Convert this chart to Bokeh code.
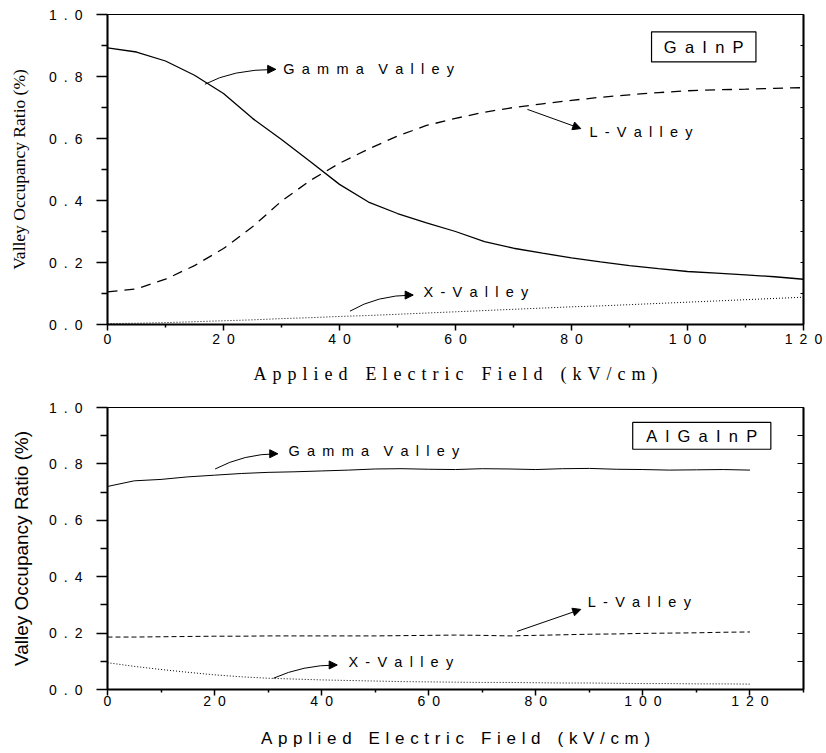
from bokeh.plotting import figure
from bokeh.models import (Range1d, LinearAxis, FixedTicker, Label, Arrow, NormalHead,
                          BoxAnnotation, CustomJSTickFormatter)
from bokeh.layouts import column
from bokeh.embed import file_html
from bokeh.resources import INLINE

# ---------------- data ----------------
field = [0, 5, 10, 15, 20, 25, 30, 35, 40, 45, 50, 55, 60, 65, 70, 75, 80, 85, 90, 95, 100, 105, 110, 115, 120]

# GaInP (top panel)
gaInP_gamma = [0.892, 0.879, 0.850, 0.804, 0.745, 0.665, 0.597, 0.525, 0.452, 0.395, 0.358, 0.328, 0.300,
               0.267, 0.246, 0.230, 0.215, 0.202, 0.190, 0.180, 0.171, 0.166, 0.160, 0.154, 0.146]
gaInP_L = [0.105, 0.115, 0.146, 0.190, 0.245, 0.315, 0.398, 0.465, 0.520, 0.566, 0.608, 0.642, 0.665,
           0.685, 0.700, 0.712, 0.723, 0.733, 0.741, 0.748, 0.754, 0.757, 0.759, 0.762, 0.764]
gaInP_X = [0.003, 0.004, 0.006, 0.009, 0.012, 0.015, 0.019, 0.022, 0.026, 0.029, 0.033, 0.037, 0.041,
           0.045, 0.049, 0.053, 0.057, 0.060, 0.064, 0.068, 0.072, 0.076, 0.080, 0.084, 0.088]

# AlGaInP (bottom panel)
alGaInP_gamma = [0.720, 0.740, 0.745, 0.754, 0.760, 0.766, 0.770, 0.772, 0.775, 0.778, 0.782, 0.783, 0.781,
                 0.780, 0.783, 0.782, 0.780, 0.783, 0.784, 0.781, 0.780, 0.778, 0.779, 0.780, 0.778]
alGaInP_L = [0.186, 0.186, 0.187, 0.188, 0.189, 0.189, 0.190, 0.190, 0.190, 0.190, 0.190, 0.191, 0.192,
             0.193, 0.192, 0.190, 0.192, 0.194, 0.196, 0.197, 0.199, 0.200, 0.201, 0.203, 0.204]
alGaInP_X = [0.095, 0.082, 0.071, 0.061, 0.052, 0.045, 0.040, 0.037, 0.034, 0.032, 0.030, 0.028, 0.027,
             0.026, 0.025, 0.025, 0.024, 0.023, 0.023, 0.022, 0.021, 0.021, 0.020, 0.020, 0.019]

# ticks
x_major = [0, 20, 40, 60, 80, 100, 120]
x_labels = ["0", "20", "40", "60", "80", "100", "120"]
x_minor_top = [10, 30, 50, 70, 90, 110]
x_minor_bot = [10, 30, 50, 70, 90, 110, 130]
y_major = [0.0, 0.2, 0.4, 0.6, 0.8, 1.0]
y_labels = ["0.0", "0.2", "0.4", "0.6", "0.8", "1.0"]
y_minor = [0.1, 0.3, 0.5, 0.7, 0.9]
y_all = [0.0, 0.1, 0.2, 0.3, 0.4, 0.5, 0.6, 0.7, 0.8, 0.9, 1.0]

x_title = "Applied Electric Field (kV/cm)"
y_title = "Valley Occupancy Ratio (%)"
panel_names = ["GaInP", "AlGaInP"]
valley_names = ["Gamma Valley", "L - Valley", "X - Valley"]

EN = "\u2002"
TPM = "\u2004"


def spread(s, gap=EN, word_gap=EN + EN):
    return word_gap.join(gap.join(list(w)) for w in s.split(" "))


def fmt(vals, labels):
    return CustomJSTickFormatter(
        args=dict(vals=vals, labels=[spread(l) for l in labels]),
        code="const i = vals.findIndex(v => Math.abs(v - tick) < 1e-6); return i >= 0 ? labels[i] : '';")


BLANK = CustomJSTickFormatter(code="return '';")


def make_panel(height, x_end, x_minor, borders, series, dashes, widths,
               ytick_out, ytick_minor_out, rtick_in, ylab_font, ylab_size, xlab_font, xlab_size,
               ylab_standoff, xlab_standoff, xtick_standoff):
    bl, br, bt, bb = borders
    p = figure(width=826, height=height, x_range=Range1d(0, x_end), y_range=Range1d(0, 1),
               output_backend="svg", toolbar_location=None,
               min_border_left=bl, min_border_right=br, min_border_top=bt, min_border_bottom=bb)
    p.grid.visible = False
    p.outline_line_color = "black"
    p.outline_line_width = 1.2
    p.background_fill_color = "white"
    p.border_fill_color = "white"

    xa = p.xaxis[0]
    xa.ticker = FixedTicker(ticks=x_major, minor_ticks=x_minor)
    xa.formatter = fmt(x_major, x_labels)
    xa.axis_line_width = 2
    xa.major_tick_line_width = 1.5
    xa.minor_tick_line_width = 1.5
    xa.major_tick_out = 6
    xa.major_tick_in = 0
    xa.minor_tick_out = 3
    xa.minor_tick_in = 0
    xa.major_label_text_font = "Liberation Sans"
    xa.major_label_text_font_size = "14px"
    xa.major_label_text_color = "black"
    xa.major_label_standoff = xtick_standoff
    xa.axis_label = spread(x_title, TPM, EN + EN)
    xa.axis_label_text_font = xlab_font
    xa.axis_label_text_font_size = xlab_size
    xa.axis_label_text_font_style = "normal"
    xa.axis_label_text_color = "black"
    xa.axis_label_standoff = xlab_standoff

    ya = p.yaxis[0]
    ya.ticker = FixedTicker(ticks=y_major, minor_ticks=y_minor)
    ya.formatter = fmt(y_major, y_labels)
    ya.axis_line_width = 2
    ya.major_tick_line_width = 1.5
    ya.minor_tick_line_width = 1.5
    ya.major_tick_out = ytick_out
    ya.major_tick_in = 0
    ya.minor_tick_out = ytick_minor_out
    ya.minor_tick_in = 0
    ya.major_label_text_font = "Liberation Sans"
    ya.major_label_text_font_size = "14px"
    ya.major_label_text_color = "black"
    ya.major_label_standoff = 14
    ya.axis_label = y_title
    ya.axis_label_text_font = ylab_font
    ya.axis_label_text_font_size = ylab_size
    ya.axis_label_text_font_style = "normal"
    ya.axis_label_text_color = "black"
    ya.axis_label_standoff = ylab_standoff

    ra = LinearAxis(ticker=FixedTicker(ticks=y_all, minor_ticks=[]), formatter=BLANK,
                    major_tick_in=rtick_in, major_tick_out=0, minor_tick_in=0, minor_tick_out=0,
                    axis_line_width=2, major_tick_line_width=1.2, major_label_standoff=0,
                    major_label_text_font_size="1px")
    p.add_layout(ra, "right")

    g, l, x = series
    p.line(field, g, line_color="black", line_width=widths[0])
    p.line(field, l, line_color="black", line_width=widths[1], line_dash=dashes[0])
    p.line(field, x, line_color="black", line_width=widths[2], line_dash=dashes[1])
    return p


# -------- top panel (GaInP) --------
p1 = make_panel(392, 120, x_minor_top, (106, 20, 14, 68),
                (gaInP_gamma, gaInP_L, gaInP_X), ("10 7", "1 2"), (1.3, 1.3, 1.0),
                11, 6, 3, "Liberation Serif", "17.5px", "Liberation Serif", "18px",
                17, 14, 0)

# -------- bottom panel (AlGaInP) --------
p2 = make_panel(358, 130, x_minor_bot, (107, 23, 15, 59),
                (alGaInP_gamma, alGaInP_L, alGaInP_X), ("5 3", "1 2"), (1.0, 1.0, 1.0),
                11, 7, 6, "Liberation Sans", "19px", "Liberation Sans", "17px",
                14, 17, -3)

# annotation geometry (data units): curved arrows (x0, y0, cx, cy, x1, y1), straight arrows, label spots
top_curves = [(16.8, 0.775, 21.5, 0.823, 29.0, 0.823), (41.8, 0.043, 46.5, 0.095, 52.7, 0.095)]
top_straight = [(72.4, 0.694, 81.6, 0.632)]
top_text = [(30.3, 0.823), (83.1, 0.621), (54.5, 0.106)]
top_box = (93.8, 111.8, 0.847, 0.944)

bot_curves = [(20.1, 0.782, 25.5, 0.836, 31.8, 0.836), (31.0, 0.040, 36.5, 0.087, 42.9, 0.087)]
bot_straight = [(76.5, 0.206, 88.4, 0.284)]
bot_text = [(33.8, 0.846), (89.7, 0.31), (45.0, 0.096)]
bot_box = (98.1, 123.9, 0.852, 0.947)


def annotate(p, curves, straight, texts, box, name):
    for (x0, y0, cx, cy, x1, y1) in curves:
        p.quadratic(x0=[x0], y0=[y0], cx=[cx], cy=[cy], x1=[x1], y1=[y1], line_color="black", line_width=1)
        p.add_layout(Arrow(end=NormalHead(size=8, fill_color="black", line_color="black", line_width=1),
                           x_start=x1 - (x1 - cx) * 0.1, y_start=y1 - (y1 - cy) * 0.1, x_end=x1, y_end=y1,
                           line_width=1, line_color="black"))
    for (x0, y0, x1, y1) in straight:
        p.add_layout(Arrow(end=NormalHead(size=8, fill_color="black", line_color="black", line_width=1),
                           x_start=x0, y_start=y0, x_end=x1, y_end=y1, line_width=1, line_color="black"))
    for i, ((tx, ty), t) in enumerate(zip(texts, valley_names)):
        word_gap = EN + EN if i == 0 else EN
        p.add_layout(Label(x=tx, y=ty, text=spread(t, EN, word_gap), text_font="Liberation Sans",
                           text_font_size="14.5px", text_color="black", text_align="left",
                           text_baseline="middle"))
    left, right, bottom, top = box
    p.add_layout(BoxAnnotation(left=left, right=right, bottom=bottom, top=top, fill_alpha=0,
                               line_color="black", line_width=1.2, line_alpha=1))
    p.add_layout(Label(x=(left + right) / 2, y=(bottom + top) / 2, text=spread(name, EN, EN),
                       text_font="Liberation Sans", text_font_size="16.5px", text_color="black",
                       text_align="center", text_baseline="middle"))


annotate(p1, top_curves, top_straight, top_text, top_box, panel_names[0])
annotate(p2, bot_curves, bot_straight, bot_text, bot_box, panel_names[1])

layout = column(p1, p2, spacing=0)
open("out.html", "w").write(file_html(layout, INLINE))
